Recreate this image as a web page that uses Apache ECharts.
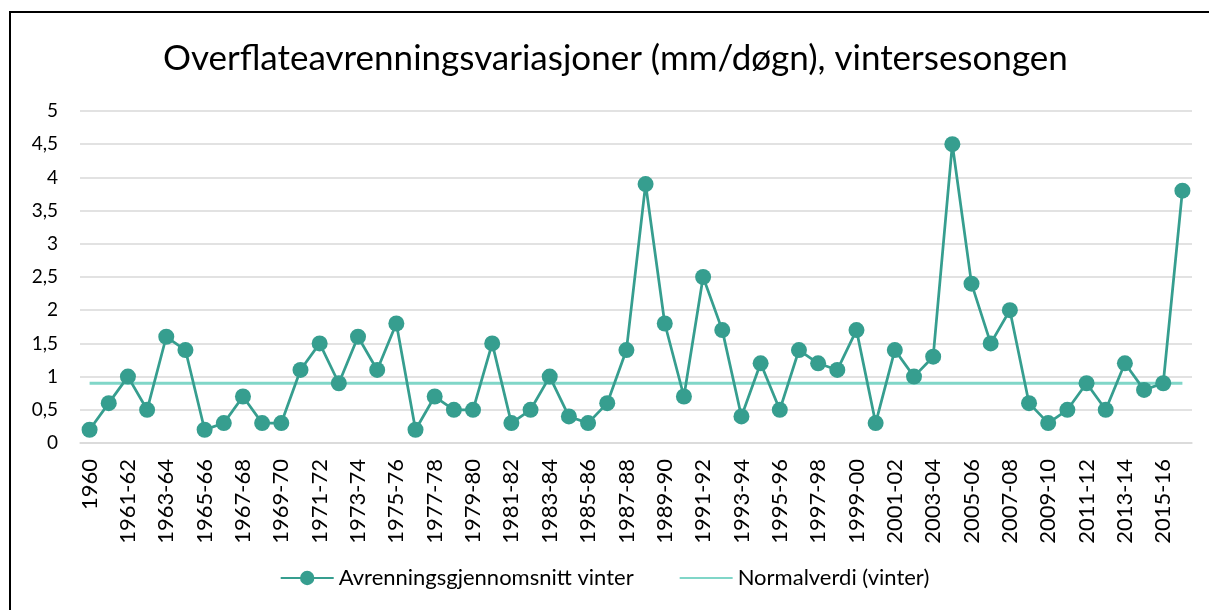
<!DOCTYPE html>
<html>
<head>
<meta charset="utf-8">
<style>
  html, body { margin: 0; padding: 0; background: #fff; }
  #chart { width: 1209px; height: 610px; }
</style>
<script src="https://cdn.jsdelivr.net/npm/echarts@6/dist/echarts.min.js"></script>
</head>
<body>
<div id="chart"></div>
<script>
const seasons = ['1960', '1960-61', '1961-62', '1962-63', '1963-64', '1964-65', '1965-66', '1966-67',
  '1967-68', '1968-69', '1969-70', '1970-71', '1971-72', '1972-73', '1973-74', '1974-75',
  '1975-76', '1976-77', '1977-78', '1978-79', '1979-80', '1980-81', '1981-82', '1982-83',
  '1983-84', '1984-85', '1985-86', '1986-87', '1987-88', '1988-89', '1989-90', '1990-91',
  '1991-92', '1992-93', '1993-94', '1994-95', '1995-96', '1996-97', '1997-98', '1998-99',
  '1999-00', '2000-01', '2001-02', '2002-03', '2003-04', '2004-05', '2005-06', '2006-07',
  '2007-08', '2008-09', '2009-10', '2010-11', '2011-12', '2012-13', '2013-14', '2014-15',
  '2015-16', '2016-17'];

// snittavrenning per vinter (mm/døgn), lest av figuren
const winterAvg = [0.2, 0.6, 1.0, 0.5, 1.6, 1.4, 0.2, 0.3, 0.7, 0.3,
  0.3, 1.1, 1.5, 0.9, 1.6, 1.1, 1.8, 0.2, 0.7, 0.5,
  0.5, 1.5, 0.3, 0.5, 1.0, 0.4, 0.3, 0.6, 1.4, 3.9,
  1.8, 0.7, 2.5, 1.7, 0.4, 1.2, 0.5, 1.4, 1.2, 1.1,
  1.7, 0.3, 1.4, 1.0, 1.3, 4.5, 2.4, 1.5, 2.0, 0.6,
  0.3, 0.5, 0.9, 0.5, 1.2, 0.8, 0.9, 3.8];

const normalValue = 0.9;
const normalLine = seasons.map(() => normalValue);

const font = 'Lato, "Open Sans", sans-serif';
const chart = echarts.init(document.getElementById('chart'));

const option = {
  backgroundColor: '#fff',
  animation: false,
  title: {
    text: 'Overflateavrenningsvariasjoner (mm/døgn), vintersesongen',
    left: 158,
    top: 36,
    textStyle: { fontFamily: font, fontSize: 35, fontWeight: 'normal', color: '#000' }
  },
  graphic: [{
    type: 'rect',
    shape: { x: 10, y: 12, width: 1220, height: 620 },
    style: { fill: 'none', stroke: '#000', lineWidth: 2 },
    silent: true
  }],
  legend: {
    bottom: 16,
    left: 'center',
    itemWidth: 53,
    itemHeight: 18,
    itemGap: 45,
    textStyle: { fontFamily: font, fontSize: 22, color: '#000' },
    data: [
      'Avrenningsgjennomsnitt vinter',
      { name: 'Normalverdi (vinter)', itemStyle: { opacity: 0 } }
    ]
  },
  grid: { left: 80, right: 17, top: 111, bottom: 167 },
  xAxis: {
    type: 'category',
    data: seasons,
    boundaryGap: true,
    axisLine: { lineStyle: { color: '#d9d9d9', width: 1.5 } },
    axisTick: { show: false },
    axisLabel: {
      interval: 1,
      rotate: 90,
      margin: 16,
      fontFamily: font,
      fontSize: 22,
      color: '#000'
    }
  },
  yAxis: {
    type: 'value',
    min: 0,
    max: 5,
    interval: 0.5,
    axisLine: { show: false },
    axisTick: { show: false },
    splitLine: { lineStyle: { color: '#d9d9d9', width: 1.5 } },
    axisLabel: {
      margin: 22,
      fontFamily: font,
      fontSize: 19,
      color: '#000',
      formatter: v => String(v).replace('.', ',')
    }
  },
  series: [
    {
      name: 'Avrenningsgjennomsnitt vinter',
      type: 'line',
      data: winterAvg,
      symbol: 'circle',
      symbolSize: 16,
      showSymbol: true,
      showAllSymbol: true,
      itemStyle: { color: '#369e8f' },
      lineStyle: { color: '#369e8f', width: 2.75 },
      z: 3
    },
    {
      name: 'Normalverdi (vinter)',
      type: 'line',
      data: normalLine,
      symbol: 'none',
      itemStyle: { color: '#80d6c8' },
      lineStyle: { color: '#80d6c8', width: 3 },
      z: 2
    }
  ]
};

chart.setOption(option);
</script>
</body>
</html>
